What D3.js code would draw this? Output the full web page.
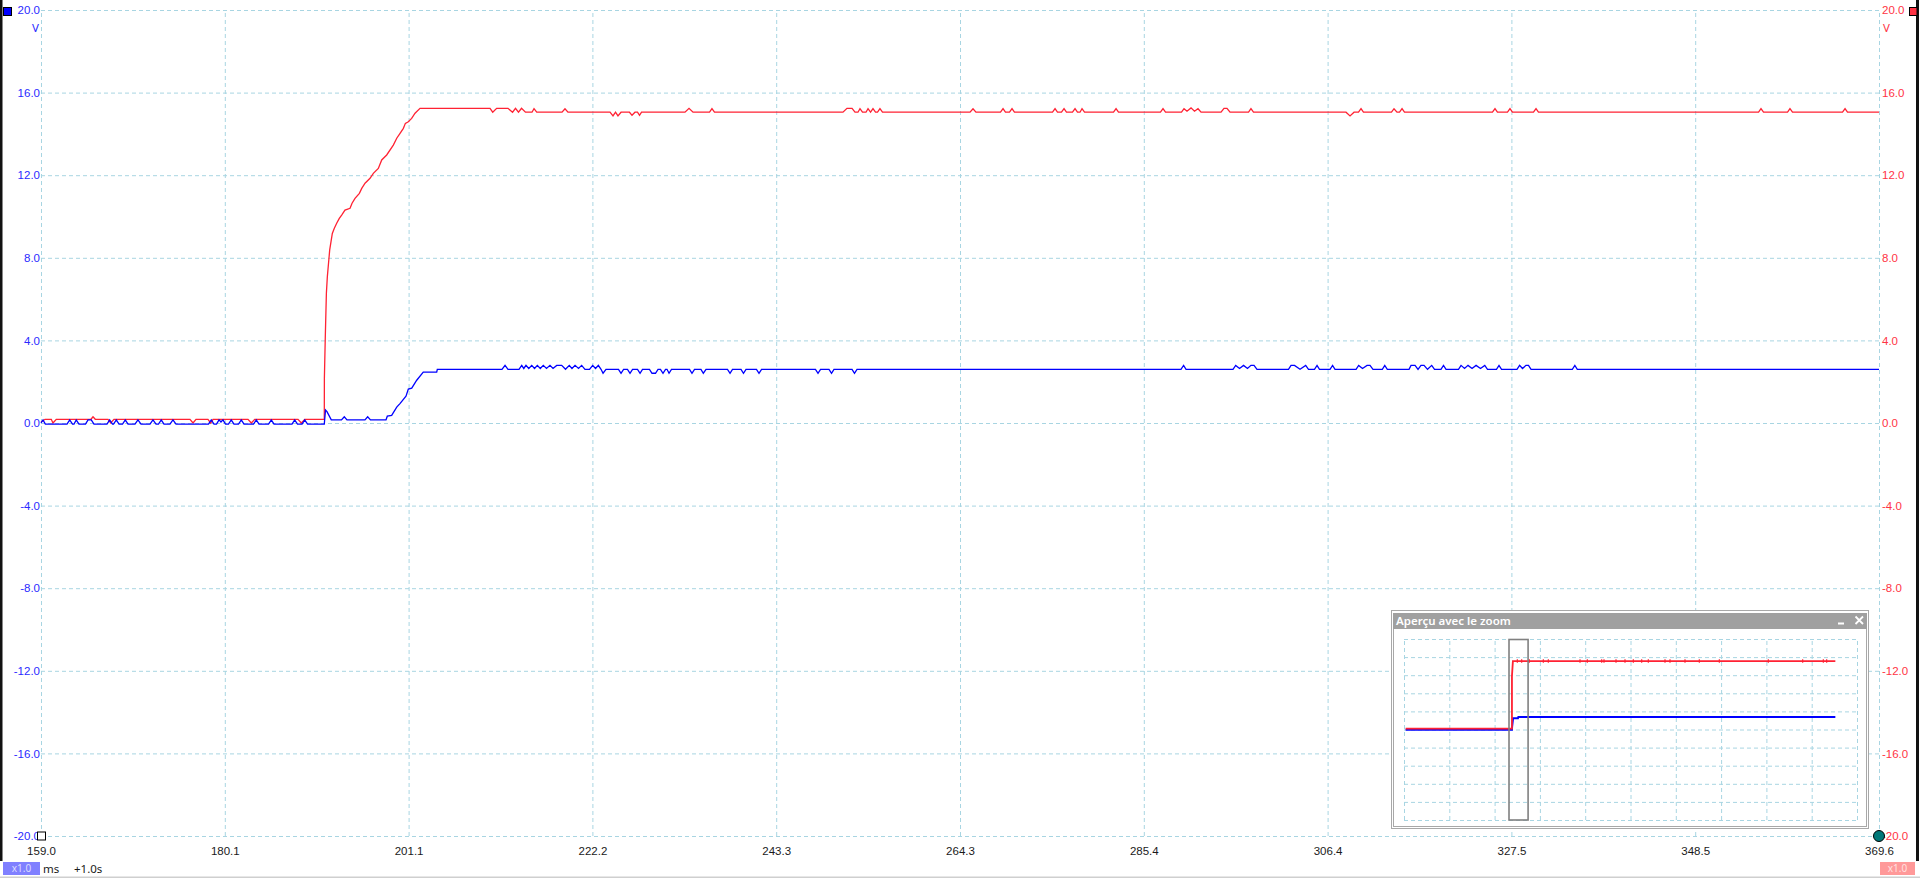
<!DOCTYPE html>
<html>
<head>
<meta charset="utf-8">
<script src="https://cdnjs.cloudflare.com/ajax/libs/d3/7.8.5/d3.min.js"></script>
<style>
body { margin: 0; background: #fff; overflow: hidden; }
svg { display: block; font-family: "Noto Sans", "Open Sans", sans-serif; }
.grid line { stroke: #a8d5e2; stroke-dasharray: 4,3; }
.grid path, .lbl path { display: none; }
</style>
</head>
<body>
<script>
// time axis (ms) and voltage axis (V)
var xTickValues = [159.0, 180.06, 201.12, 222.18, 243.24, 264.30, 285.36, 306.42, 327.48, 348.54, 369.6];
var xTickLabels = ["159.0","180.1","201.1","222.2","243.3","264.3","285.4","306.4","327.5","348.5","369.6"];
var yTickValues = [20, 16, 12, 8, 4, 0, -4, -8, -12, -16, -20];
var yTickLabels = ["20.0","16.0","12.0","8.0","4.0","0.0","-4.0","-8.0","-12.0","-16.0","-20.0"];

// channel B (red), [ms, V]
var redTrace = [
[159.0,0.05],[159.46,0.18],[160.18,0.18],[160.37,0.0],[160.75,0.18],
[164.73,0.18],[164.96,0.30],[165.22,0.18],
[166.68,0.18],[166.99,0.0],[167.36,0.18],
[176.07,0.18],[176.42,0.0],[176.76,0.18],
[178.13,0.18],[178.44,0.0],[178.71,0.18],
[182.72,0.18],[183.10,0.0],[183.49,0.18],
[188.45,0.18],[188.83,0.0],[189.22,0.18],
[191.46,0.18],[191.47,2.16],[191.58,4.26],[191.70,6.28],[191.81,7.09],[191.96,7.81],[192.08,8.38],
[192.23,8.78],[192.38,9.18],[192.61,9.43],[192.88,9.67],[193.18,9.91],[193.45,10.07],[193.83,10.31],
[194.41,10.40],[194.64,10.64],[194.98,10.88],[195.48,11.12],[195.75,11.36],[196.13,11.61],[196.70,11.85],
[197.08,12.09],[197.65,12.33],[198.04,12.74],[198.61,12.98],[199.37,13.46],[199.76,13.79],[200.14,14.03],
[200.52,14.27],[200.75,14.51],[201.09,14.59],[201.47,14.75],[201.86,15.00],[202.43,15.24],
[210.45,15.24],[210.76,15.05],[211.21,15.24],
[212.51,15.24],[213.03,15.05],[213.37,15.24],[213.71,15.05],[214.06,15.24],[214.51,15.05],
[215.26,15.05],[215.49,15.22],[215.80,15.05],
[218.70,15.05],[219.04,15.22],[219.38,15.05],
[224.20,15.05],[224.54,14.87],[224.83,15.05],[225.11,14.87],[225.46,15.05],
[226.43,15.05],[226.72,14.90],[227.06,15.05],[227.35,15.05],[227.58,14.90],[227.81,15.05],
[232.79,15.05],[233.25,15.24],[233.71,15.05],
[235.60,15.05],[235.88,15.22],[236.17,15.05],
[250.89,15.05],[251.35,15.24],[251.93,15.24],[252.27,15.05],
[252.61,15.05],[252.84,15.22],[253.13,15.05],
[253.53,15.05],[253.76,15.22],[254.05,15.05],[254.33,15.22],[254.62,15.05],
[254.85,15.05],[255.13,15.22],[255.42,15.05],
[265.45,15.05],[265.79,15.22],[266.13,15.05],
[268.94,15.05],[269.23,15.22],[269.51,15.05],
[269.97,15.05],[270.26,15.22],[270.54,15.05],
[274.90,15.05],[275.19,15.22],[275.47,15.05],
[275.93,15.05],[276.22,15.22],[276.50,15.05],
[277.19,15.05],[277.48,15.22],[277.76,15.05],
[278.05,15.05],[278.28,15.22],[278.57,15.05],
[281.89,15.05],[282.18,15.22],[282.46,15.05],
[287.27,15.05],[287.56,15.22],[287.85,15.05],
[289.68,15.05],[289.97,15.22],[290.31,15.10],[290.77,15.26],[291.17,15.10],[291.57,15.22],[291.92,15.05],
[294.21,15.05],[294.55,15.24],[294.89,15.24],[295.24,15.05],
[297.36,15.05],[297.64,15.22],[297.93,15.05],
[308.53,15.05],[308.99,14.87],[309.45,15.05],
[309.96,15.05],[310.25,15.22],[310.53,15.05],
[313.74,15.05],[314.03,15.22],[314.37,15.05],[314.66,15.05],[314.95,15.22],[315.23,15.05],
[325.31,15.05],[325.60,15.22],[325.88,15.05],
[327.03,15.05],[327.32,15.22],[327.60,15.05],
[330.01,15.05],[330.30,15.22],[330.58,15.05],
[355.80,15.05],[356.08,15.22],[356.37,15.05],
[359.12,15.05],[359.40,15.22],[359.69,15.05],
[365.42,15.05],[365.71,15.22],[365.99,15.05],
[369.60,15.05]
];

// channel A (blue), [ms, V]
var blueTrace = [
[159.0,0.0],[159.23,0.15],[159.50,-0.05],
[161.98,-0.05],[162.29,0.15],[162.61,-0.05],
[162.78,-0.05],[163.04,0.15],[163.35,-0.05],
[164.10,-0.05],[164.39,0.15],[164.76,0.15],[165.07,-0.05],
[166.56,-0.05],[166.87,0.15],[167.19,-0.05],
[167.31,-0.05],[167.63,0.15],[167.94,-0.05],
[168.34,-0.05],[168.66,0.15],[168.97,-0.05],
[169.77,-0.05],[170.11,0.15],[170.46,-0.05],
[171.49,-0.05],[171.83,0.15],[172.18,-0.05],
[172.46,-0.05],[172.78,0.15],[173.09,-0.05],
[173.78,-0.05],[174.12,0.15],[174.47,-0.05],
[178.19,-0.05],[178.51,0.15],[178.82,-0.05],
[179.11,-0.05],[179.40,0.15],[179.62,0.05],[179.85,0.15],[180.14,-0.05],
[180.48,-0.05],[180.80,0.15],[181.11,-0.05],
[181.63,-0.05],[181.95,0.15],[182.26,-0.05],
[183.35,-0.05],[183.67,0.15],[183.98,-0.05],
[185.07,-0.05],[185.39,0.15],[185.70,-0.05],
[187.76,-0.05],[188.07,0.15],[188.39,-0.05],
[188.91,-0.05],[189.22,0.15],[189.54,-0.05],
[191.46,-0.05],[191.60,0.63],[191.77,0.55],[192.26,0.15],
[193.43,0.15],[193.75,0.30],[194.06,0.15],
[196.12,0.15],[196.43,0.30],[196.75,0.15],
[198.53,0.15],[198.68,0.33],[199.18,0.37],[199.76,0.77],[200.13,0.94],[200.82,1.30],[201.09,1.64],
[201.48,1.69],[202.05,2.07],[202.80,2.46],[204.34,2.46],[204.41,2.60],
[211.82,2.60],[212.17,2.79],[212.51,2.60],
[213.77,2.60],[214.08,2.79],[214.32,2.64],[214.57,2.79],[214.89,2.64],[215.23,2.79],[215.55,2.64],
[215.87,2.79],[216.21,2.64],[216.55,2.79],[216.92,2.64],[217.32,2.79],[217.67,2.64],[218.09,2.79],
[218.66,2.79],[219.10,2.60],[219.53,2.79],[219.84,2.64],[220.19,2.79],[220.59,2.64],[220.95,2.79],[221.33,2.60],
[221.85,2.60],[222.21,2.79],[222.54,2.64],[222.86,2.79],[223.17,2.60],[223.40,2.41],[223.74,2.60],
[225.17,2.60],[225.46,2.41],[225.75,2.60],
[226.20,2.60],[226.49,2.41],[226.78,2.60],
[227.35,2.60],[227.64,2.41],[227.92,2.60],
[228.72,2.60],[229.01,2.41],[229.41,2.41],[229.70,2.60],
[229.98,2.60],[230.27,2.41],[230.56,2.60],
[230.73,2.60],[230.96,2.41],[231.24,2.60],
[233.31,2.60],[233.59,2.41],[233.88,2.60],
[234.62,2.60],[234.89,2.41],[235.20,2.60],
[237.66,2.60],[237.95,2.41],[238.23,2.60],
[239.21,2.60],[239.49,2.41],[239.78,2.60],
[240.98,2.60],[241.27,2.41],[241.56,2.60],
[247.74,2.60],[248.03,2.41],[248.32,2.60],
[249.29,2.60],[249.58,2.41],[249.86,2.60],
[251.93,2.60],[252.21,2.41],[252.50,2.60],
[289.62,2.60],[289.92,2.79],[290.20,2.60],
[295.58,2.60],[295.89,2.79],[296.33,2.64],[296.79,2.79],[297.24,2.64],[297.64,2.79],[297.99,2.79],[298.33,2.60],
[301.94,2.60],[302.23,2.79],[302.63,2.79],[303.26,2.60],[303.91,2.79],[304.23,2.60],
[304.92,2.60],[305.21,2.79],[305.49,2.60],
[306.70,2.60],[306.99,2.79],[307.27,2.60],
[309.68,2.60],[309.98,2.79],[310.42,2.64],[310.94,2.79],[311.28,2.79],[311.62,2.60],
[312.69,2.60],[312.97,2.79],[313.26,2.60],
[315.75,2.60],[315.98,2.79],[316.44,2.79],[316.78,2.60],[317.12,2.79],[317.47,2.79],[317.87,2.60],[318.35,2.79],[318.67,2.60],
[319.41,2.60],[319.70,2.79],[319.99,2.60],
[321.42,2.60],[321.71,2.79],[322.11,2.64],[322.51,2.79],[322.97,2.64],[323.43,2.79],[323.94,2.64],[324.43,2.79],[324.74,2.60],
[325.77,2.60],[326.06,2.79],[326.35,2.60],
[328.12,2.60],[328.42,2.79],[328.75,2.64],[329.15,2.79],[329.44,2.79],[329.73,2.60],
[334.46,2.60],[334.75,2.79],[335.03,2.60],
[369.60,2.60]
];

// zoom overview (whole capture), [ms, V]
var insetTicks = [-1000, -500, 0, 500, 1000, 1500, 2000, 2500, 3000, 3500, 4000];
var insetRed = [[-982,0.2],[191.5,0.2],[191.5,11.8],[202,15.1],[3761,15.1]];
var insetBlue = [[-982,-0.05],[191.5,-0.05],[193,0.6],[204,2.5],[258,2.5],[262,2.75],[3761,2.75]];
var insetRedGlitch = [250.9, 298.7, 383.4, 537.9, 593.1, 942.6, 1023.5, 1181.8, 1207.5, 1340, 1439.3,
  1531.3, 1623.3, 1696.8, 1880.8, 1936, 2101.5, 2259.7, 2480.5, 3021.3, 3400.3, 3628.4, 3665.2];
var zoomWindow = [159.0, 369.6];

var W = 1920, H = 878;
var plot = {left: 41, right: 1879, top: 10, bottom: 836};

var svg = d3.select("body").append("svg")
    .attr("width", W)
    .attr("height", H);

var x = d3.scaleLinear().domain([159.0, 369.6]).range([plot.left, plot.right]);
var y = d3.scaleLinear().domain([-20, 20]).range([plot.bottom, plot.top]);

// frame bits
svg.append("rect").attr("x", 0).attr("y", 0).attr("width", 2.5).attr("height", 861).attr("fill", "#111");
svg.append("rect").attr("x", 1916).attr("y", 0).attr("width", 3).attr("height", 861).attr("fill", "#111");
svg.append("rect").attr("x", 0).attr("y", 876.5).attr("width", W).attr("height", 1.5).attr("fill", "#cfcfcf");

// grid
svg.append("g")
    .attr("class", "grid")
    .attr("transform", "translate(0," + plot.bottom + ")")
    .call(d3.axisBottom(x).tickValues(xTickValues).tickSize(-(plot.bottom - plot.top)).tickFormat(""));
svg.append("g")
    .attr("class", "grid")
    .attr("transform", "translate(" + plot.left + ",0)")
    .call(d3.axisLeft(y).tickValues(yTickValues).tickSize(-(plot.right - plot.left)).tickFormat(""));

// traces
var line = d3.line().x(function(d) { return x(d[0]); }).y(function(d) { return y(d[1]); });
svg.append("path").datum(redTrace)
    .attr("d", line).attr("fill", "none").attr("stroke", "#ff2233").attr("stroke-width", 1.3);
svg.append("path").datum(blueTrace)
    .attr("d", line).attr("fill", "none").attr("stroke", "#0000ff").attr("stroke-width", 1.3);

// y labels left (blue) and right (red)
var yl = svg.append("g").attr("class", "lbl")
    .attr("transform", "translate(" + plot.left + ",0)")
    .call(d3.axisLeft(y).tickValues(yTickValues).tickSize(0).tickPadding(1)
        .tickFormat(function(d, i) { return yTickLabels[i]; }));
yl.selectAll("text").attr("fill", "#2a2aff").style("font-size", "11.5px");

var yr = svg.append("g").attr("class", "lbl")
    .attr("transform", "translate(" + plot.right + ",0)")
    .call(d3.axisRight(y).tickValues(yTickValues).tickSize(0).tickPadding(3)
        .tickFormat(function(d, i) { return yTickLabels[i]; }));
yr.selectAll("text").attr("fill", "#ff3344").style("font-size", "11.5px");

svg.append("text").attr("x", 39).attr("y", 28).attr("dy", "0.35em").attr("text-anchor", "end")
    .attr("fill", "#2a2aff").style("font-size", "11.5px").text("V");
svg.append("text").attr("x", 1883).attr("y", 28).attr("dy", "0.35em")
    .attr("fill", "#ff3344").style("font-size", "11.5px").text("V");

// x labels
var xl = svg.append("g").attr("class", "lbl")
    .attr("transform", "translate(0," + plot.bottom + ")")
    .call(d3.axisBottom(x).tickValues(xTickValues).tickSize(0).tickPadding(11)
        .tickFormat(function(d, i) { return xTickLabels[i]; }));
xl.selectAll("text").attr("fill", "#1a1a1a").style("font-size", "11.5px");

// channel markers
svg.append("rect").attr("x", 3.5).attr("y", 7.5).attr("width", 8).attr("height", 8)
    .attr("fill", "#0000ff").attr("stroke", "#000").attr("stroke-width", 1);
svg.append("rect").attr("x", 1909.5).attr("y", 7.5).attr("width", 7.5).attr("height", 8)
    .attr("fill", "#ff3344").attr("stroke", "#000").attr("stroke-width", 1);
svg.append("rect").attr("x", 37.5).attr("y", 832).attr("width", 8).attr("height", 8)
    .attr("fill", "#fff").attr("stroke", "#000").attr("stroke-width", 1);
svg.append("circle").attr("cx", x(369.6)).attr("cy", y(-20)).attr("r", 5.5)
    .attr("fill", "#007878").attr("stroke", "#000").attr("stroke-width", 1);

// bottom status strip
svg.append("rect").attr("x", 3).attr("y", 862).attr("width", 37).attr("height", 13).attr("fill", "#8080ff");
svg.append("text").attr("x", 21.5).attr("y", 868.5).attr("dy", "0.35em").attr("text-anchor", "middle")
    .attr("fill", "#dcdcff").style("font-size", "10px").text("x1.0");
svg.append("text").attr("x", 43).attr("y", 869).attr("dy", "0.35em")
    .attr("fill", "#1a1a1a").style("font-size", "11.5px").text("ms");
svg.append("text").attr("x", 74).attr("y", 869).attr("dy", "0.35em")
    .attr("fill", "#1a1a1a").style("font-size", "11.5px").text("+1.0s");
svg.append("rect").attr("x", 1880).attr("y", 862).attr("width", 35).attr("height", 13).attr("fill", "#ff9999");
svg.append("text").attr("x", 1897.5).attr("y", 868.5).attr("dy", "0.35em").attr("text-anchor", "middle")
    .attr("fill", "#ffe0e0").style("font-size", "10px").text("x1.0");

// ---- "Aperçu avec le zoom" overview window ----
var box = {left: 1391, top: 610, right: 1869, bottom: 829};
var win = svg.append("g");
win.append("rect").attr("x", box.left + 0.5).attr("y", box.top + 0.5)
    .attr("width", box.right - box.left - 1).attr("height", box.bottom - box.top - 1)
    .attr("fill", "#fff").attr("stroke", "#a8a8a8").attr("stroke-width", 1);
win.append("rect").attr("x", box.left + 2.5).attr("y", box.top + 3.5)
    .attr("width", box.right - box.left - 5).attr("height", box.bottom - box.top - 6)
    .attr("fill", "#fff").attr("stroke", "#a8a8a8").attr("stroke-width", 1);
win.append("rect").attr("x", box.left + 2).attr("y", 613).attr("width", box.right - box.left - 4).attr("height", 16)
    .attr("fill", "#a0a0a0");
win.append("text").attr("x", 1396).attr("y", 621).attr("dy", "0.35em")
    .attr("fill", "#fff").style("font-size", "11.5px").style("font-weight", "600")
    .text("Aperçu avec le zoom");
win.append("rect").attr("x", 1838).attr("y", 622.5).attr("width", 6).attr("height", 2).attr("fill", "#fff");
win.append("path").attr("d", "M1855.5,616.5L1863,624M1863,616.5L1855.5,624")
    .attr("stroke", "#fff").attr("stroke-width", 1.8);

var xi = d3.scaleLinear().domain([-1000, 4000]).range([1404, 1857]);
var yi = d3.scaleLinear().domain([-20, 20]).range([820, 639]);

win.append("g")
    .attr("class", "grid")
    .attr("transform", "translate(0,820)")
    .call(d3.axisBottom(xi).tickValues(insetTicks).tickSize(-181).tickFormat(""));
win.append("g")
    .attr("class", "grid")
    .attr("transform", "translate(1404,0)")
    .call(d3.axisLeft(yi).tickValues(yTickValues).tickSize(-453).tickFormat(""));

var iline = d3.line().x(function(d) { return xi(d[0]); }).y(function(d) { return yi(d[1]); });
win.append("path").datum(insetBlue)
    .attr("d", iline).attr("fill", "none").attr("stroke", "#0000ff").attr("stroke-width", 2);
win.append("path").datum(insetRed)
    .attr("d", iline).attr("fill", "none").attr("stroke", "#ff2233").attr("stroke-width", 1.8);
win.selectAll(".glitch").data(insetRedGlitch).enter().append("line")
    .attr("class", "glitch")
    .attr("x1", function(d) { return xi(d); }).attr("x2", function(d) { return xi(d); })
    .attr("y1", yi(15.1) - 2).attr("y2", yi(15.1) + 1.5)
    .attr("stroke", "#ff2233").attr("stroke-width", 1.2);

// current view marker
win.append("rect")
    .attr("x", xi(zoomWindow[0])).attr("y", 639.5)
    .attr("width", xi(zoomWindow[1]) - xi(zoomWindow[0])).attr("height", 180.5)
    .attr("fill", "none").attr("stroke", "#808080").attr("stroke-width", 1.6);
</script>
</body>
</html>
